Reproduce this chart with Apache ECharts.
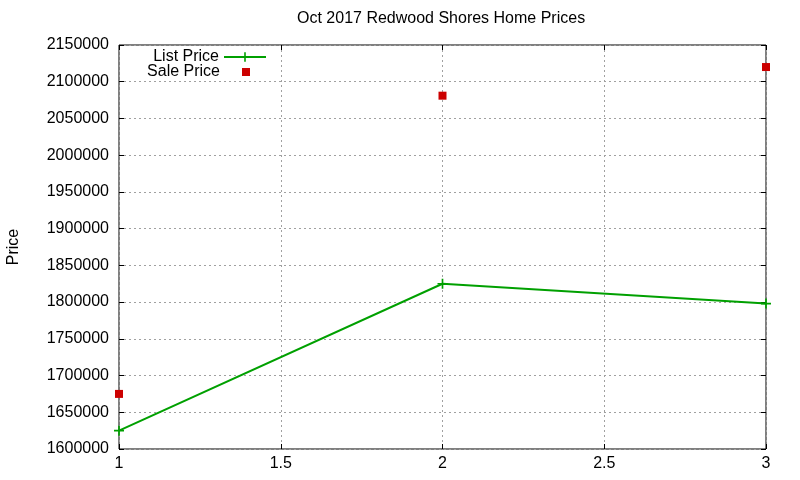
<!DOCTYPE html>
<html>
<head>
<meta charset="utf-8">
<script src="https://cdn.jsdelivr.net/npm/echarts@6/dist/echarts.min.js"></script>
<style>
html, body { margin: 0; padding: 0; background: #fff; }
#main { width: 800px; height: 480px; }
</style>
</head>
<body>
<div id="main"></div>
<script>
var xValues = [1, 2, 3];
var listPrice = [1625000, 1825000, 1798000];
var salePrice = [1675000, 2081000, 2120000];
var xTicks = ['1', '1.5', '2', '2.5', '3'];

var font = 'Liberation Sans, Arial, sans-serif';
var plusIcon = 'path://M4,0h1.6v4h4v1.6h-4v4h-1.6v-4h-4v-1.6h4z';
// square in the middle of a 42x8 box, so it lines up under the list price icon
var squareIcon = 'path://M0,4L0,4M17,0h8v8h-8zM42,4L42,4';

function pairs(xs, ys) {
	var out = [];
	for (var i = 0; i < xs.length; i++) {
		out.push([xs[i], ys[i]]);
	}
	return out;
}

var myChart = echarts.init(document.getElementById('main'));

var gridDash = { show: true, lineStyle: { color: '#a0a0a0', type: [2, 3], width: 1 } };
var tickIn = { show: true, inside: true, length: 5, lineStyle: { color: '#000' } };

var option = {
	animation: false,
	backgroundColor: '#fff',
	textStyle: { fontFamily: font },
	title: {
		text: 'Oct 2017 Redwood Shores Home Prices',
		left: 297,
		top: 11,
		padding: 0,
		textStyle: { fontFamily: font, fontSize: 16, fontWeight: 'normal', color: '#000' }
	},
	legend: [
		{
			data: ['List Price'],
			right: 533,
			top: 49,
			padding: 0,
			align: 'right',
			itemWidth: 42,
			itemHeight: 12,
			textStyle: { fontFamily: font, fontSize: 16, color: '#000' }
		},
		{
			data: [{ name: 'Sale Price', icon: squareIcon }],
			right: 533,
			top: 64,
			padding: 0,
			align: 'right',
			itemWidth: 42,
			itemHeight: 8,
			textStyle: { fontFamily: font, fontSize: 16, color: '#000' }
		}
	],
	grid: {
		left: 119,
		right: 34,
		top: 45,
		bottom: 31,
		show: true,
		borderColor: '#000',
		borderWidth: 1,
		containLabel: false,
		outerBoundsMode: 'none'
	},
	xAxis: [
		{
			type: 'value',
			min: 1,
			max: 3,
			interval: 0.5,
			position: 'bottom',
			axisLine: { show: false },
			axisTick: tickIn,
			axisLabel: {
				color: '#000', fontSize: 16, fontFamily: font, margin: 7,
				formatter: function (v) {
					var s = String(v);
					return xTicks.indexOf(s) >= 0 ? s : '';
				}
			},
			splitLine: gridDash
		},
		{
			type: 'value',
			min: 1,
			max: 3,
			interval: 0.5,
			position: 'top',
			axisLine: { show: false },
			axisTick: tickIn,
			axisLabel: { show: false },
			splitLine: { show: false }
		}
	],
	yAxis: [
		{
			type: 'value',
			min: 1600000,
			max: 2150000,
			interval: 50000,
			name: 'Price',
			nameLocation: 'middle',
			nameGap: 97,
			nameRotate: 90,
			nameTextStyle: { color: '#000', fontSize: 16, fontFamily: font },
			axisLine: { show: false },
			axisTick: tickIn,
			axisLabel: {
				color: '#000', fontSize: 16, fontFamily: font, margin: 10,
				formatter: function (v) { return String(v); }
			},
			splitLine: gridDash
		},
		{
			type: 'value',
			min: 1600000,
			max: 2150000,
			interval: 50000,
			position: 'right',
			axisLine: { show: false },
			axisTick: tickIn,
			axisLabel: { show: false },
			splitLine: { show: false }
		}
	],
	series: [
		{
			name: 'List Price',
			type: 'line',
			data: pairs(xValues, listPrice),
			symbol: plusIcon,
			symbolSize: 10,
			showAllSymbol: true,
			lineStyle: { color: '#00a000', width: 2 },
			itemStyle: { color: '#00a000' },
			z: 3
		},
		{
			name: 'Sale Price',
			type: 'scatter',
			data: pairs(xValues, salePrice),
			symbol: 'rect',
			symbolSize: 8,
			itemStyle: { color: '#cc0000', opacity: 1 },
			z: 4
		}
	]
};

myChart.setOption(option);
</script>
</body>
</html>
